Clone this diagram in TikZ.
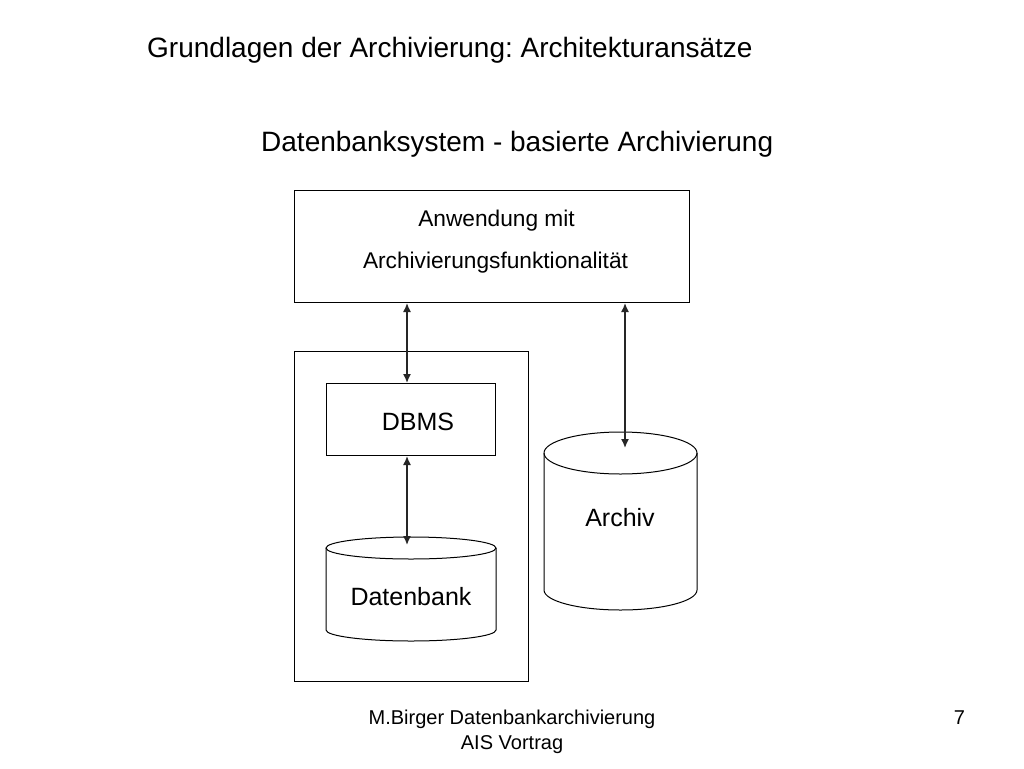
\documentclass[tikz,border=0pt]{standalone}
\usepackage{fontspec}
\setmainfont{Liberation Sans}
\usetikzlibrary{arrows.meta}
\begin{document}
\frenchspacing
\begin{tikzpicture}[x=1pt,y=-1pt,
  box/.style={draw=black,line width=1pt},
  link/.style={{Latex[length=9pt,width=8pt]}-{Latex[length=9pt,width=8pt]}, line width=1.5pt, draw=black!85},
  lbl/.style={inner sep=0pt, anchor=base},
  big/.style={font=\fontsize{28}{34}\selectfont},
  mid/.style={font=\fontsize{25}{30}\selectfont},
  small/.style={font=\fontsize{22.7}{27}\selectfont},
  foot/.style={font=\fontsize{20}{24}\selectfont},
]
\fill[white] (0,0) rectangle (1024,768);
\useasboundingbox (0,0) rectangle (1024,768);

% titles
\node[lbl, big, anchor=base west] (title) at (147,57) {Grundlagen der Archivierung: Architekturansätze};
\node[lbl, big, anchor=base west] (sub) at (261,151) {Datenbanksystem - basierte Archivierung};

% boxes
\node[box, anchor=north west, minimum width=395pt, minimum height=112pt, inner sep=0pt] (app) at (294,190) {};
\node[lbl, small] (appt1) at (496.5,226.5) {Anwendung mit};
\node[lbl, small] (appt2) at (495.5,268) {Archivierungsfunktionalität};

\node[box, anchor=north west, minimum width=234pt, minimum height=330pt, inner sep=0pt] (sys) at (294,351) {};
\node[box, anchor=north west, minimum width=169pt, minimum height=72pt, inner sep=0pt] (dbms) at (326,383) {};
\node[lbl, mid] (dbmst) at (418,430.5) {DBMS};

% Datenbank cylinder
\draw[box] (411,548) ellipse [x radius=85, y radius=11];
\draw[box] (326,548) -- (326,630) arc[start angle=180, end angle=0, x radius=85, y radius=11] -- (496,548);
\node[lbl, mid] (dbt) at (411,605.5) {Datenbank};

% Archiv cylinder
\draw[box] (620.5,453) ellipse [x radius=76.5, y radius=21];
\draw[box] (544,453) -- (544,590) arc[start angle=180, end angle=0, x radius=76.5, y radius=20] -- (697,453);
\node[lbl, mid] (art) at (620,526.5) {Archiv};

% connector ends
\coordinate (dbtop) at (407,545);
\coordinate (artop) at (625,448);

\draw[link] (app.south -| dbtop) -- (dbms.north -| dbtop);
\draw[link] (dbms.south -| dbtop) -- (dbtop);
\draw[link] (app.south -| artop) -- (artop);

% footer
\node[lbl, foot] (foot1) at (512,724) {M.Birger Datenbankarchivierung};
\node[lbl, foot] (foot2) at (512,749) {AIS Vortrag};
\node[lbl, foot] (page) at (959.5,724) {7};
\end{tikzpicture}
\end{document}
